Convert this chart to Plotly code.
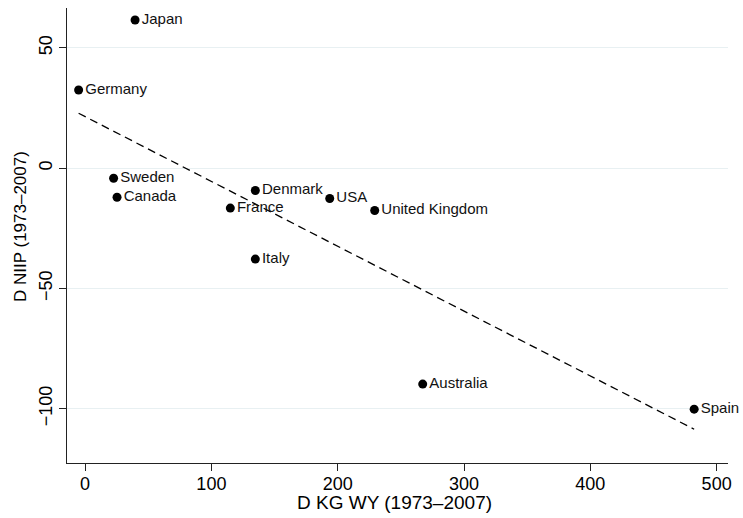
import numpy as np
import plotly.graph_objects as go

countries = ["Japan", "Germany", "Sweden", "Canada", "France", "Denmark",
             "USA", "United Kingdom", "Italy", "Australia", "Spain"]
d_kg_wy = [39.6, -5.1, 22.6, 25.3, 115.0, 134.8, 193.7, 229.3, 134.8, 267.3, 482.2]
d_niip = [61.6, 32.5, -4.2, -12.1, -16.6, -9.3, -12.6, -17.6, -37.8, -89.8, -100.2]

x_ticks = [0, 100, 200, 300, 400, 500]
y_ticks = [-100, -50, 0, 50]

xa = np.array(d_kg_wy)
ya = np.array(d_niip)
slope, intercept = np.polyfit(xa, ya, 1)
fx = np.array([xa.min(), xa.max()])
fy = intercept + slope * fx

FONT = "Liberation Sans, Arial, Helvetica, sans-serif"
W, H = 743, 518
L, R, T, B = 67, 15, 8, 55

fig = go.Figure()
fig.add_trace(go.Scatter(
    x=fx, y=fy, mode="lines",
    line=dict(color="black", width=1.3, dash="8px,5px"),
    hoverinfo="skip", showlegend=False))
fig.add_trace(go.Scatter(
    x=d_kg_wy, y=d_niip, mode="markers+text",
    text=countries, textposition="middle right",
    textfont=dict(family=FONT, size=15, color="#111"),
    marker=dict(color="black", size=9),
    cliponaxis=False, showlegend=False))

fig.update_layout(
    width=W, height=H,
    margin=dict(l=L, r=R, t=T, b=B, autoexpand=False),
    paper_bgcolor="white", plot_bgcolor="white",
    font=dict(family=FONT, color="black"),
    xaxis=dict(
        range=[-14.3, 509], tickvals=x_ticks, ticktext=[str(v) for v in x_ticks],
        showgrid=False, zeroline=False, showline=True, linecolor="#222", linewidth=1,
        ticks="outside", ticklen=7, tickcolor="#222", tickfont=dict(size=18),
        ticklabelstandoff=-3, automargin=False),
    yaxis=dict(
        range=[-122.6, 66.6], tickvals=y_ticks,
        tickangle=-90, showgrid=True, gridcolor="#e8f0f2", gridwidth=1,
        zeroline=False, showline=True, linecolor="#222", linewidth=1,
        ticks="outside", ticklen=7, tickcolor="#222", tickfont=dict(size=18),
        automargin=False),
    annotations=[
        dict(text="D KG WY (1973–2007)", xref="paper", yref="paper",
             x=(394 - L) / (W - L - R), y=-(503 - (H - B)) / (H - T - B),
             xanchor="center", yanchor="middle", showarrow=False,
             font=dict(size=19)),
        dict(text="D NIIP (1973–2007)", xref="paper", yref="paper",
             x=-(L - 21) / (W - L - R), y=((H - B) - 227) / (H - T - B),
             xanchor="center", yanchor="middle", textangle=-90, showarrow=False,
             font=dict(size=17)),
    ],
)

fig.write_html("out.html", config={"displayModeBar": False},
               post_script="document.body.style.margin='0';document.body.style.overflow='hidden';")
